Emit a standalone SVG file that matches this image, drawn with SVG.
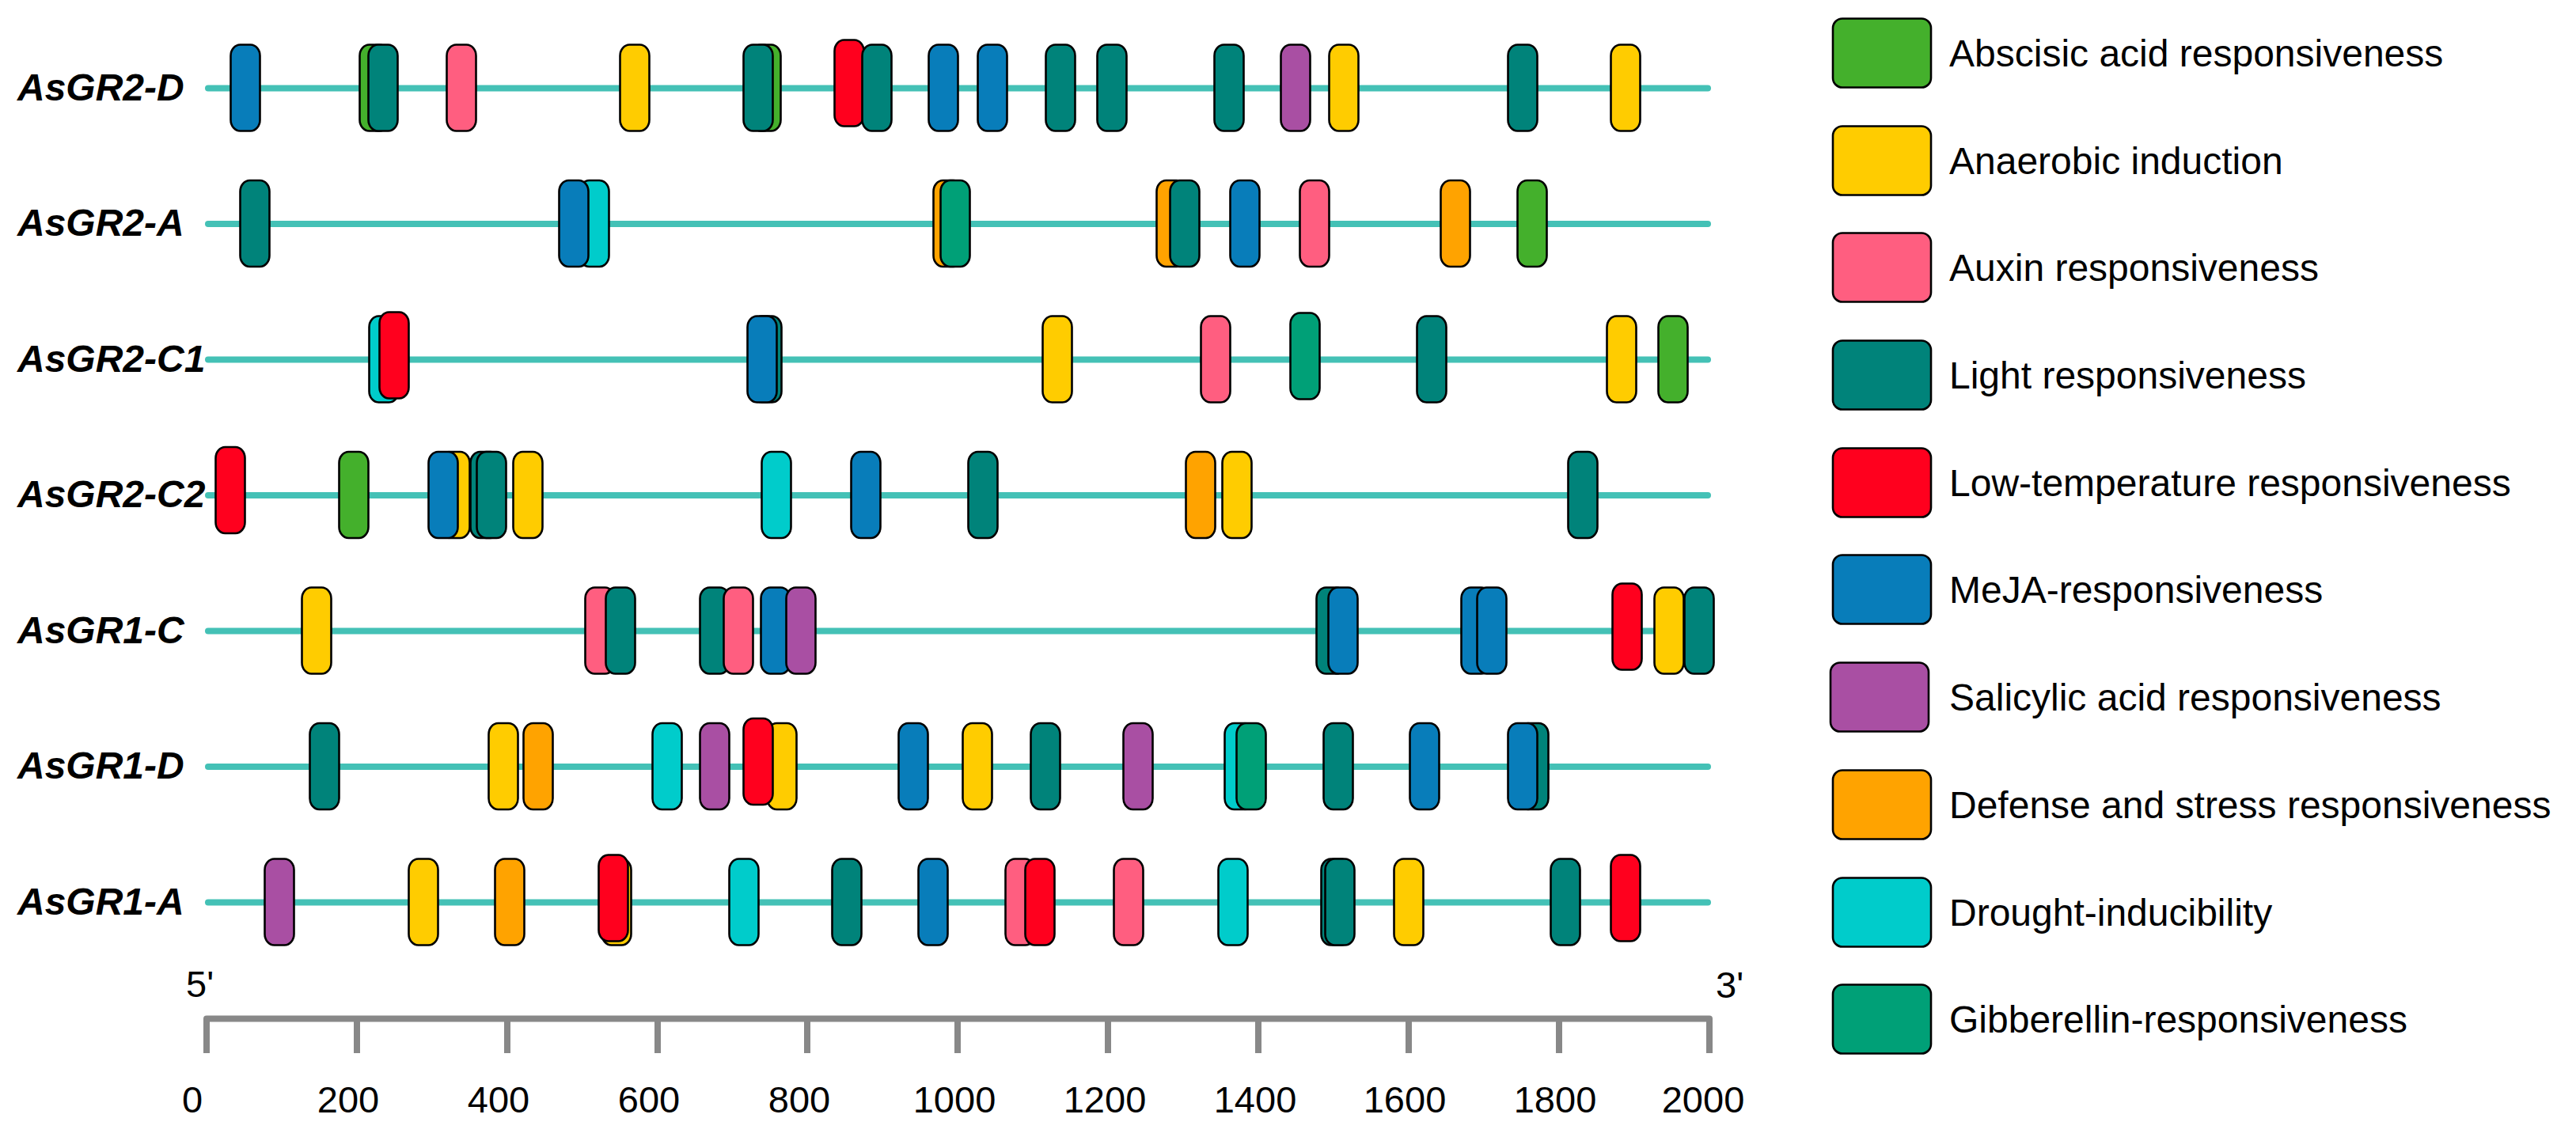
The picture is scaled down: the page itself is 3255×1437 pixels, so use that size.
<svg xmlns="http://www.w3.org/2000/svg" width="3255" height="1437" viewBox="0 0 3255 1437">
<style>
.lbl{font-family:"Liberation Sans",Arial,sans-serif;font-weight:bold;font-style:italic;font-size:48px;fill:#000}
.txt{font-family:"Liberation Sans",Arial,sans-serif;font-size:47px;fill:#000}
.gl{stroke:#44C1B6;stroke-width:8;stroke-linecap:round;fill:none}
.ax{stroke:#888888;stroke-width:8;fill:none;stroke-linejoin:round}
.b{stroke:#000;stroke-width:2.6}
.G{fill:#44B02C}.Y{fill:#FFCC00}.P{fill:#FF5E80}.T{fill:#00837A}.R{fill:#FF001E}
.B{fill:#087DBA}.V{fill:#A94FA3}.O{fill:#FFA300}.C{fill:#00CCCB}.GB{fill:#00A077}
</style>
<defs>
<rect id="bx" x="-18.5" y="-55" width="37" height="109" rx="12" ry="14"/>
<rect id="lg" x="0" y="-43.5" width="124" height="87" rx="12" ry="12"/>
</defs>

<g id="connectors"></g>

<g id="gene-AsGR2-D" transform="translate(0,111.5)">
<text class="lbl" x="22" y="15">AsGR2-D</text>
<line class="gl" x1="263" y1="0" x2="2158" y2="0"/>
<use href="#bx" x="310" class="b B"/>
<use href="#bx" x="473" class="b G"/>
<use href="#bx" x="484" class="b T"/>
<use href="#bx" x="583" class="b P"/>
<use href="#bx" x="802" class="b Y"/>
<use href="#bx" x="968" class="b G"/>
<use href="#bx" x="958" class="b T"/>
<use href="#bx" x="1073" y="-6" class="b R"/>
<use href="#bx" x="1108" class="b T"/>
<use href="#bx" x="1192" class="b B"/>
<use href="#bx" x="1254" class="b B"/>
<use href="#bx" x="1340" class="b T"/>
<use href="#bx" x="1405" class="b T"/>
<use href="#bx" x="1553" class="b T"/>
<use href="#bx" x="1637" class="b V"/>
<use href="#bx" x="1698" class="b Y"/>
<use href="#bx" x="1924" class="b T"/>
<use href="#bx" x="2054" class="b Y"/>
</g>

<g id="gene-AsGR2-A" transform="translate(0,283)">
<text class="lbl" x="22" y="15">AsGR2-A</text>
<line class="gl" x1="263" y1="0" x2="2158" y2="0"/>
<use href="#bx" x="322" class="b T"/>
<use href="#bx" x="751" class="b C"/>
<use href="#bx" x="725" class="b B"/>
<use href="#bx" x="1198" class="b O"/>
<use href="#bx" x="1207" class="b GB"/>
<use href="#bx" x="1480" class="b O"/>
<use href="#bx" x="1497" class="b T"/>
<use href="#bx" x="1573" class="b B"/>
<use href="#bx" x="1661" class="b P"/>
<use href="#bx" x="1839" class="b O"/>
<use href="#bx" x="1936" class="b G"/>
</g>

<g id="gene-AsGR2-C1" transform="translate(0,454.5)">
<text class="lbl" x="22" y="15">AsGR2-C1</text>
<line class="gl" x1="263" y1="0" x2="2158" y2="0"/>
<use href="#bx" x="485" class="b C"/>
<use href="#bx" x="498" y="-5" class="b R"/>
<use href="#bx" x="969" class="b T"/>
<use href="#bx" x="963" class="b B"/>
<use href="#bx" x="1336" class="b Y"/>
<use href="#bx" x="1536" class="b P"/>
<use href="#bx" x="1649" y="-4" class="b GB"/>
<use href="#bx" x="1809" class="b T"/>
<use href="#bx" x="2049" class="b Y"/>
<use href="#bx" x="2114" class="b G"/>
</g>

<g id="gene-AsGR2-C2" transform="translate(0,626)">
<text class="lbl" x="22" y="15">AsGR2-C2</text>
<line class="gl" x1="263" y1="0" x2="2158" y2="0"/>
<use href="#bx" x="291" y="-6" class="b R"/>
<use href="#bx" x="447" class="b G"/>
<use href="#bx" x="575" class="b Y"/>
<use href="#bx" x="560" class="b B"/>
<use href="#bx" x="613" class="b T"/>
<use href="#bx" x="621" class="b T"/>
<use href="#bx" x="667" class="b Y"/>
<use href="#bx" x="981" class="b C"/>
<use href="#bx" x="1094" class="b B"/>
<use href="#bx" x="1242" class="b T"/>
<use href="#bx" x="1517" class="b O"/>
<use href="#bx" x="1563" class="b Y"/>
<use href="#bx" x="2000" class="b T"/>
</g>

<g id="gene-AsGR1-C" transform="translate(0,797.5)">
<text class="lbl" x="22" y="15">AsGR1-C</text>
<line class="gl" x1="263" y1="0" x2="2158" y2="0"/>
<use href="#bx" x="400" class="b Y"/>
<use href="#bx" x="758" class="b P"/>
<use href="#bx" x="784" class="b T"/>
<use href="#bx" x="903" class="b T"/>
<use href="#bx" x="933" class="b P"/>
<use href="#bx" x="980" class="b B"/>
<use href="#bx" x="1012" class="b V"/>
<use href="#bx" x="1682" class="b T"/>
<use href="#bx" x="1697" class="b B"/>
<use href="#bx" x="1865" class="b B"/>
<use href="#bx" x="1885" class="b B"/>
<use href="#bx" x="2056" y="-5" class="b R"/>
<use href="#bx" x="2109" class="b Y"/>
<use href="#bx" x="2147" class="b T"/>
</g>

<g id="gene-AsGR1-D" transform="translate(0,969)">
<text class="lbl" x="22" y="15">AsGR1-D</text>
<line class="gl" x1="263" y1="0" x2="2158" y2="0"/>
<use href="#bx" x="410" class="b T"/>
<use href="#bx" x="636" class="b Y"/>
<use href="#bx" x="680" class="b O"/>
<use href="#bx" x="843" class="b C"/>
<use href="#bx" x="903" class="b V"/>
<use href="#bx" x="988" class="b Y"/>
<use href="#bx" x="958" y="-6" class="b R"/>
<use href="#bx" x="1154" class="b B"/>
<use href="#bx" x="1235" class="b Y"/>
<use href="#bx" x="1321" class="b T"/>
<use href="#bx" x="1438" class="b V"/>
<use href="#bx" x="1566" class="b C"/>
<use href="#bx" x="1581" class="b GB"/>
<use href="#bx" x="1691" class="b T"/>
<use href="#bx" x="1800" class="b B"/>
<use href="#bx" x="1938" class="b T"/>
<use href="#bx" x="1924" class="b B"/>
</g>

<g id="gene-AsGR1-A" transform="translate(0,1140.5)">
<text class="lbl" x="22" y="15">AsGR1-A</text>
<line class="gl" x1="263" y1="0" x2="2158" y2="0"/>
<use href="#bx" x="353" class="b V"/>
<use href="#bx" x="535" class="b Y"/>
<use href="#bx" x="644" class="b O"/>
<use href="#bx" x="779" class="b Y"/>
<use href="#bx" x="775" y="-5" class="b R"/>
<use href="#bx" x="940" class="b C"/>
<use href="#bx" x="1070" class="b T"/>
<use href="#bx" x="1179" class="b B"/>
<use href="#bx" x="1289" class="b P"/>
<use href="#bx" x="1314" class="b R"/>
<use href="#bx" x="1426" class="b P"/>
<use href="#bx" x="1558" class="b C"/>
<use href="#bx" x="1688" class="b T"/>
<use href="#bx" x="1693" class="b T"/>
<use href="#bx" x="1780" class="b Y"/>
<use href="#bx" x="1978" class="b T"/>
<use href="#bx" x="2054" y="-5" class="b R"/>
</g>

<g id="axis">
<text class="txt" x="235" y="1260">5'</text>
<text class="txt" x="2168" y="1261">3'</text>
<path class="ax" d="M261,1331 V1287.5 H2160 V1331"/>
<path class="ax" d="M451,1287.5 V1331 M641,1287.5 V1331 M831,1287.5 V1331 M1020,1287.5 V1331 M1210,1287.5 V1331 M1400,1287.5 V1331 M1590,1287.5 V1331 M1780,1287.5 V1331 M1970,1287.5 V1331"/>
<g class="txt" text-anchor="middle">
<text x="243" y="1406">0</text>
<text x="440" y="1406">200</text>
<text x="630" y="1406">400</text>
<text x="820" y="1406">600</text>
<text x="1010" y="1406">800</text>
<text x="1206" y="1406">1000</text>
<text x="1396" y="1406">1200</text>
<text x="1586" y="1406">1400</text>
<text x="1775" y="1406">1600</text>
<text x="1965" y="1406">1800</text>
<text x="2152" y="1406">2000</text>
</g>
</g>

<g id="legend">
<g id="leg-abscisic" transform="translate(2316,67)"><use href="#lg" class="b G"/><text class="txt" x="147" y="17" style="font-size:48px">Abscisic acid responsiveness</text></g>
<g id="leg-anaerobic" transform="translate(2316,203)"><use href="#lg" class="b Y"/><text class="txt" x="147" y="17" style="font-size:48px">Anaerobic induction</text></g>
<g id="leg-auxin" transform="translate(2316,338)"><use href="#lg" class="b P"/><text class="txt" x="147" y="17" style="font-size:48px">Auxin responsiveness</text></g>
<g id="leg-light" transform="translate(2316,474)"><use href="#lg" class="b T"/><text class="txt" x="147" y="17" style="font-size:48px">Light responsiveness</text></g>
<g id="leg-lowtemp" transform="translate(2316,610)"><use href="#lg" class="b R"/><text class="txt" x="147" y="17" style="font-size:48px">Low-temperature responsiveness</text></g>
<g id="leg-meja" transform="translate(2316,745)"><use href="#lg" class="b B"/><text class="txt" x="147" y="17" style="font-size:48px">MeJA-responsiveness</text></g>
<g id="leg-salicylic" transform="translate(2313,881)"><use href="#lg" class="b V"/><text class="txt" x="150" y="17" style="font-size:48px">Salicylic acid responsiveness</text></g>
<g id="leg-defense" transform="translate(2316,1017)"><use href="#lg" class="b O"/><text class="txt" x="147" y="17" style="font-size:48px">Defense and stress responsiveness</text></g>
<g id="leg-drought" transform="translate(2316,1153)"><use href="#lg" class="b C"/><text class="txt" x="147" y="17" style="font-size:48px">Drought-inducibility</text></g>
<g id="leg-gibberellin" transform="translate(2316,1288)"><use href="#lg" class="b GB"/><text class="txt" x="147" y="17" style="font-size:48px">Gibberellin-responsiveness</text></g>
</g>
</svg>
